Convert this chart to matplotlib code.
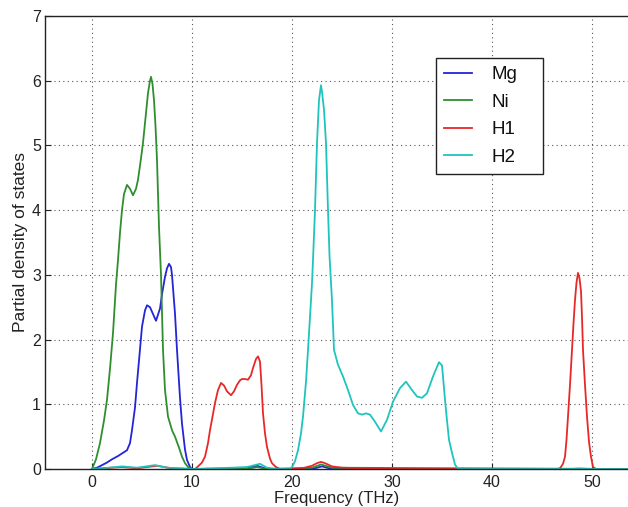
import matplotlib
matplotlib.use("Agg")
import matplotlib.pyplot as plt

plt.rcParams['font.family'] = ['Liberation Sans', 'DejaVu Sans']

# Mg (blue)
mg_x = [0, 0.5, 1.0, 1.5, 2.0, 2.6, 3.0, 3.5, 3.8, 4.0, 4.3, 4.5, 4.8, 5.0, 5.3, 5.5, 5.8, 6.0,
        6.4, 6.8, 7.0, 7.3, 7.5, 7.7, 7.9, 8.0, 8.3, 8.5, 8.8, 9.0, 9.3, 9.5, 9.8, 10.0,
        15.0, 16.5, 17.5, 22.0, 23.0, 24.0, 53.6]
mg_y = [0, 0.02, 0.06, 0.1, 0.15, 0.2, 0.24, 0.29, 0.4, 0.6, 0.95, 1.33, 1.85, 2.2, 2.45, 2.53, 2.5, 2.43,
        2.29, 2.48, 2.7, 2.97, 3.1, 3.17, 3.12, 3.0, 2.4, 1.84, 1.1, 0.7, 0.3, 0.14, 0.03, 0.0,
        0.01, 0.05, 0.0, 0.0, 0.04, 0.0, 0.0]

# Ni (green)
ni_x = [0, 0.4, 0.8, 1.2, 1.5, 1.8, 2.1, 2.4, 2.6, 2.8, 3.0, 3.2, 3.5, 3.8, 4.1, 4.4, 4.6, 4.9, 5.1,
        5.4, 5.6, 5.8, 5.9, 6.05, 6.2, 6.35, 6.5, 6.7, 6.9, 7.1, 7.3, 7.6, 8.0, 8.3, 8.7, 9.0, 9.3,
        9.6, 10.0, 15.5, 16.5, 17.5, 22.0, 22.9, 24.0, 53.6]
ni_y = [0.0, 0.15, 0.4, 0.75, 1.07, 1.55, 2.1, 2.85, 3.23, 3.65, 4.0, 4.25, 4.39, 4.33, 4.23, 4.33,
        4.47, 4.8, 5.04, 5.5, 5.81, 6.0, 6.06, 5.95, 5.7, 5.3, 4.78, 3.74, 3.0, 1.84, 1.22, 0.81, 0.6,
        0.5, 0.33, 0.19, 0.09, 0.03, 0.0, 0.0, 0.03, 0.0, 0.02, 0.07, 0.02, 0.0]

# H1 (red)
h1_x = [0, 3.0, 4.5, 6.5, 8.0, 10.0, 10.3, 10.6, 11.0, 11.3, 11.6, 11.8, 12.1, 12.3, 12.6, 12.9, 13.2,
        13.5, 13.9, 14.2, 14.5, 14.8, 15.0, 15.3, 15.6, 15.9, 16.1, 16.4, 16.6, 16.8, 16.95, 17.1,
        17.3, 17.5, 17.8, 18.0, 18.4, 18.8, 20.0, 21.0, 22.0, 22.5, 22.9, 23.3, 24.0, 25.0, 27.0,
        30.0, 46.5, 46.8, 47.1, 47.3, 47.45, 47.6, 47.8, 48.0, 48.15, 48.3, 48.45, 48.6, 48.75,
        48.9, 49.0, 49.1, 49.3, 49.5, 49.7, 49.9, 50.1, 50.4, 53.6]
h1_y = [0, 0.03, 0.01, 0.05, 0.01, 0.0, 0.0, 0.04, 0.1, 0.19, 0.4, 0.6, 0.85, 1.02, 1.22, 1.33, 1.29,
        1.2, 1.14, 1.2, 1.3, 1.37, 1.39, 1.39, 1.38, 1.45, 1.56, 1.7, 1.74, 1.66, 1.3, 0.86,
        0.55, 0.34, 0.16, 0.09, 0.03, 0.0, 0.0, 0.01, 0.05, 0.09, 0.11, 0.09, 0.04, 0.02, 0.01,
        0.0, 0.0, 0.01, 0.08, 0.19, 0.45, 0.81, 1.3, 1.84, 2.25, 2.61, 2.88, 3.03, 2.95,
        2.75, 2.35, 1.84, 1.3, 0.81, 0.42, 0.19, 0.03, 0.0, 0.0]

# H2 (cyan)
h2_x = [0, 1.0, 3.0, 4.5, 6.3, 7.5, 9.0, 10.0, 12.0, 14.0, 15.5, 16.8, 17.5, 18.5, 19.8, 20.0, 20.3,
        20.6, 20.9, 21.1, 21.4, 21.6, 21.8, 22.0, 22.1, 22.3, 22.5, 22.7, 22.9, 23.0, 23.2, 23.4,
        23.6, 23.75, 24.0, 24.2, 24.6, 25.1, 25.6, 26.1, 26.6, 27.0, 27.4, 27.8, 28.3, 28.9, 29.5,
        30.1, 30.8, 31.4, 32.0, 32.5, 33.0, 33.5, 34.1, 34.7, 35.0, 35.3, 35.5, 35.7, 36.0, 36.3,
        36.6, 48.0, 48.7, 50.0, 53.6]
h2_y = [0, 0.01, 0.04, 0.02, 0.06, 0.02, 0.01, 0.0, 0.01, 0.02, 0.03, 0.08, 0.02, 0.0, 0.0, 0.03, 0.12,
        0.29, 0.55, 0.81, 1.35, 1.84, 2.35, 2.87, 3.23, 4.0, 5.04, 5.7, 5.93, 5.83, 5.55, 5.04,
        4.0, 3.3, 2.6, 1.84, 1.61, 1.43, 1.22, 0.99, 0.86, 0.84, 0.86, 0.84, 0.73, 0.58, 0.76,
        1.04, 1.25, 1.35, 1.22, 1.12, 1.1, 1.17, 1.43, 1.65, 1.6, 1.07, 0.75, 0.45, 0.25, 0.07,
        0.0, 0.0, 0.01, 0.0, 0.0]

x_ticks = [0, 10, 20, 30, 40, 50]
y_ticks = [0, 1, 2, 3, 4, 5, 6, 7]

fig = plt.figure(figsize=(6.28, 5.07), dpi=100)
ax = fig.add_axes([45/628, 38/507, 583/628, 453/507])

ax.plot(mg_x, mg_y, color='#2424d8', lw=1.3, label='Mg')
ax.plot(ni_x, ni_y, color='#2f8f2f', lw=1.3, label='Ni')
ax.plot(h1_x, h1_y, color='#e82828', lw=1.3, label='H1')
ax.plot(h2_x, h2_y, color='#1fc4bc', lw=1.3, label='H2')

ax.set_xlim(-4.7, 53.6)
ax.set_ylim(0, 7)
ax.set_xticks(x_ticks)
ax.set_yticks(y_ticks)
ax.grid(True, color='#555555', linestyle=(0, (1, 3)), linewidth=0.8)
ax.tick_params(direction='in', length=4, labelsize=11.5, colors='#222222')
ax.tick_params(axis='y', pad=3)
ax.tick_params(axis='x', pad=4)
ax.spines['right'].set_visible(False)
for s in ['left', 'bottom', 'top']:
    ax.spines[s].set_color('#222222')
    ax.spines[s].set_linewidth(1.0)

ax.set_xlabel('Frequency (THz)', fontsize=12, color='#222222', labelpad=1)
ax.set_ylabel('Partial density of states', fontsize=12.5, color='#222222', labelpad=3)

leg = ax.legend(loc='upper left', bbox_to_anchor=(0.671, 0.656, 0.183, 0.251), mode='expand',
                fontsize=13.5, fancybox=False, framealpha=1, edgecolor='#222222',
                handlelength=1.5, handletextpad=1.05, labelspacing=0.56, borderpad=0.42,
                borderaxespad=0)
leg.get_frame().set_linewidth(1.0)
for t in leg.get_texts():
    t.set_color('#111111')

fig.savefig('out.png', dpi=100)
